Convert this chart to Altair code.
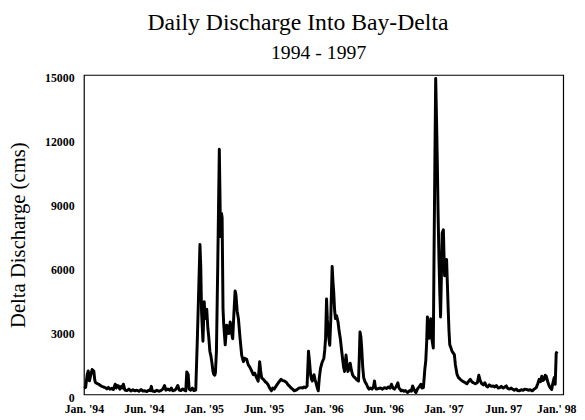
import json
import altair as alt
import pandas as pd

# time in months since Jan 1994 (axis positions), discharge in cms
months = [
    0.0, 0.17, 0.33, 0.43, 0.55, 0.68, 0.82, 0.99, 1.08, 1.15, 1.3, 1.48, 1.65, 1.8, 1.95,
    2.14, 2.3, 2.45, 2.6, 2.8, 2.95, 3.13, 3.25, 3.35, 3.46, 3.6, 3.75, 3.85, 3.95, 4.1,
    4.3, 4.5, 4.7, 4.9, 5.1, 5.3, 5.5, 5.7, 5.9, 6.1, 6.3, 6.5, 6.65, 6.75, 6.85, 7.1,
    7.3, 7.5, 7.7, 7.9, 8.07, 8.2, 8.4, 8.6, 8.75, 8.9, 9.1, 9.25, 9.4, 9.55, 9.7, 9.9,
    10.05, 10.2, 10.3, 10.44, 10.54, 10.7, 10.86, 11.0, 11.2, 11.36, 11.5, 11.62, 11.7,
    11.78, 11.92, 12.05, 12.12, 12.22, 12.3, 12.41, 12.5, 12.61, 12.72, 12.84, 12.92,
    13.0, 13.1, 13.17, 13.27, 13.4, 13.56, 13.62, 13.68, 13.78, 13.84, 13.93, 14.0,
    14.15, 14.3, 14.4, 14.5, 14.65, 14.78, 14.9, 15.02, 15.14, 15.22, 15.35, 15.47,
    15.64, 15.8, 15.97, 16.1, 16.3, 16.46, 16.6, 16.75, 16.96, 17.1, 17.3, 17.45, 17.6,
    17.7, 17.8, 18.0, 18.15, 18.3, 18.45, 18.6, 18.77, 18.9, 19.05, 19.26, 19.4, 19.55,
    19.75, 19.9, 20.1, 20.3, 20.45, 20.57, 20.75, 20.9, 21.07, 21.25, 21.4, 21.55, 21.73,
    21.9, 22.05, 22.2, 22.35, 22.49, 22.6, 22.7, 22.8, 22.88, 22.96, 23.04, 23.15, 23.28,
    23.38, 23.47, 23.58, 23.7, 23.85, 24.03, 24.12, 24.2, 24.3, 24.38, 24.46, 24.54,
    24.62, 24.72, 24.86, 24.94, 25.02, 25.1, 25.19, 25.3, 25.45, 25.55, 25.68, 25.8,
    25.9, 26.0, 26.1, 26.18, 26.25, 26.35, 26.44, 26.55, 26.67, 26.78, 26.9, 27.0, 27.16,
    27.3, 27.5, 27.58, 27.65, 27.74, 27.82, 27.92, 28.02, 28.15, 28.3, 28.42, 28.54,
    28.7, 28.85, 29.0, 29.1, 29.2, 29.3, 29.5, 29.7, 29.9, 30.1, 30.3, 30.5, 30.65, 30.8,
    30.95, 31.1, 31.25, 31.44, 31.55, 31.65, 31.77, 31.9, 32.05, 32.2, 32.4, 32.55, 32.7,
    32.8, 32.92, 33.05, 33.15, 33.25, 33.4, 33.55, 33.74, 33.85, 34.0, 34.14, 34.24,
    34.33, 34.4, 34.48, 34.57, 34.65, 34.73, 34.85, 34.99, 35.06, 35.15, 35.23, 35.31,
    35.39, 35.47, 35.56, 35.64, 35.72, 35.8, 35.88, 36.0, 36.06, 36.12, 36.2, 36.32,
    36.4, 36.48, 36.56, 36.64, 36.75, 36.87, 36.98, 37.1, 37.2, 37.37, 37.5, 37.7, 37.85,
    38.0, 38.2, 38.35, 38.5, 38.7, 38.85, 39.0, 39.2, 39.4, 39.55, 39.7, 39.85, 40.0,
    40.15, 40.3, 40.45, 40.6, 40.8, 41.0, 41.15, 41.3, 41.5, 41.65, 41.8, 42.0, 42.15,
    42.3, 42.45, 42.6, 42.8, 42.96, 43.1, 43.3, 43.45, 43.6, 43.8, 44.0, 44.15, 44.3,
    44.5, 44.7, 44.9, 45.1, 45.3, 45.45, 45.6, 45.73, 45.86, 45.95, 46.1, 46.2, 46.3,
    46.45, 46.6, 46.72, 46.85, 46.95, 47.1, 47.2, 47.3, 47.4,
]
discharge = [
    300, 330, 940, 1100, 640, 900, 1170, 1100, 700, 560, 520, 480, 420, 380, 350,
    320, 260, 330, 250, 290, 230, 480, 300, 420, 400, 250, 380, 300, 480, 210,
    180, 250, 160, 220, 170, 200, 150, 230, 160, 170, 140, 200, 180, 380, 160, 140,
    200, 150, 180, 250, 420, 200, 260, 200, 300, 170, 200, 280, 420, 200, 180, 260,
    200, 170, 1060, 940, 250, 200, 300, 180, 210, 2620, 5000, 7040, 6000,
    3880, 2500, 4350, 3600, 3570, 4000, 3110, 2700, 2030, 1800, 1415, 1100,
    950, 900, 1030, 2030, 6000, 11510, 9500, 7420, 8500, 8300, 4030, 3300,
    2330, 3250, 2900, 2860, 3400, 2900, 2620, 3800, 4860, 4700, 3900, 3570,
    2620, 1850, 1540, 1700, 1650, 1390, 1300, 1150, 930, 1000, 780, 620, 1540,
    1100, 780, 700, 600, 550, 450, 300, 170, 300, 250, 400, 500, 600,
    710, 650, 630, 550, 450, 400, 300, 250, 170, 200, 250, 300, 320,
    300, 350, 320, 400, 2030, 1500, 930, 700, 630, 800, 930, 700, 480,
    300, 170, 800, 1240, 1500, 1700, 2100, 2620, 4480, 3500, 2930, 2600,
    2310, 3500, 6010, 5300, 4780, 4000, 3560, 3700, 3400, 3000, 2620, 2100,
    1700, 1300, 1080, 1500, 1850, 1400, 1080, 1200, 1470, 1150, 930, 850, 780,
    700, 630, 1800, 2930, 2700, 2160, 1300, 780, 600, 480, 350, 250,
    300, 250, 350, 630, 300, 250, 280, 300, 250, 320, 280, 350, 300, 480,
    300, 250, 350, 550, 300, 250, 170, 200, 150, 180, 90, 150, 200,
    150, 400, 250, 150, 90, 250, 350, 480, 300, 320, 1170, 1600,
    2500, 3640, 3000, 2640, 3200, 3550, 2600, 2180, 6340, 11000, 14830, 13000,
    10970, 8500, 6340, 4800, 3640, 5500, 7580, 7730, 6600, 5570, 5900, 6340,
    5200, 4030, 3000, 2330, 2200, 2020, 1950, 1870, 1400, 940, 800, 710, 650,
    600, 550, 500, 600, 710, 600, 550, 500, 550, 900, 630, 500, 450,
    550, 400, 350, 450, 380, 400, 350, 420, 300, 320, 380, 300, 350,
    400, 280, 250, 300, 240, 200, 250, 180, 170, 220, 200, 250, 240,
    200, 220, 170, 250, 320, 500, 710, 600, 860, 650, 710, 900, 860,
    600, 400, 300, 240, 500, 790, 480, 1940, 2020,
]

x_tick_values = [0, 6, 12, 18, 24, 30, 36, 42, 48]
x_tick_labels = ["Jan. '94", "Jun. '94", "Jan. '95", "Jun. '95", "Jan. '96",
                 "Jun. '96", "Jan. '97", "Jun. 97", "Jan.' 98"]
y_tick_values = [0, 3000, 6000, 9000, 12000, 15000]

title_text = "Daily Discharge Into Bay-Delta"
subtitle_text = ["1994 - 1997"]

df = pd.DataFrame({"month": months, "discharge": discharge})
sub_df = pd.DataFrame({"label": subtitle_text})

label_expr = json.dumps(x_tick_labels) + "[round(datum.value / 6)]"

serif = "Liberation Serif"

line = alt.Chart(df).mark_line(color="black", strokeWidth=3, strokeJoin="round").encode(
    x=alt.X("month:Q",
            scale=alt.Scale(domain=[0, 48], nice=False, zero=False),
            axis=alt.Axis(values=x_tick_values, labelExpr=label_expr, title=None,
                          grid=False, ticks=False, domain=False,
                          labelFont=serif, labelFontWeight="bold", labelFontSize=12,
                          labelColor="black", labelPadding=9, labelFlush=False,
                          labelAlign={"condition": {"test": "datum.value >= 48", "value": "right"},
                                      "value": "center"},
                          labelOffset={"condition": {"test": "datum.value >= 48", "value": 13},
                                       "value": 0})),
    y=alt.Y("discharge:Q",
            scale=alt.Scale(domain=[0, 15000], nice=False),
            axis=alt.Axis(values=y_tick_values, format="d", title="Delta Discharge (cms)",
                          grid=False, ticks=False, domain=False,
                          labelFont=serif, labelFontWeight="bold", labelFontSize=12,
                          labelColor="black", labelPadding=10, labelOffset=3,
                          titleFont=serif, titleFontWeight="normal", titleFontSize=21,
                          titleColor="black", titleAngle=-90, titleAlign="center",
                          titleBaseline="middle", titleX=-66, titleY=162)),
)

subtitle = alt.Chart(sub_df).mark_text(
    font=serif, fontSize=20, color="black", baseline="alphabetic", align="center"
).encode(
    text="label:N",
    x=alt.value(238),
    y=alt.value(-16),
)

chart = alt.layer(line, subtitle).properties(
    width=486,
    height=324,
    autosize=alt.AutoSizeParams(type="none"),
    padding={"left": 77, "top": 65, "right": 14, "bottom": 22},
    title=alt.TitleParams(
        text=title_text,
        anchor="middle",
        frame="group",
        dx=-26,
        font=serif, fontSize=24, fontWeight="normal", color="black",
        offset=9,
    ),
).configure_view(stroke="black", strokeWidth=1.2)

chart.save("out.html", embed_options={"renderer": "svg", "actions": False})
